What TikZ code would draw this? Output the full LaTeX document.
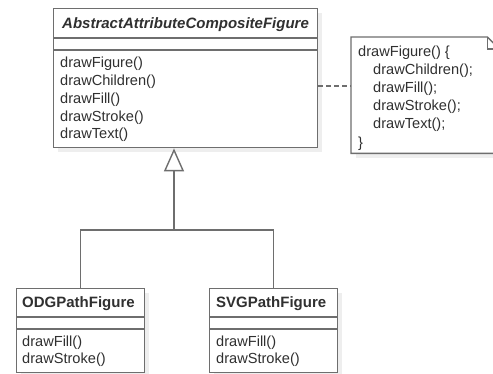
\documentclass[tikz,border=0pt]{standalone}
\usepackage{fontspec}
\setmainfont{Liberation Sans}
\usetikzlibrary{arrows.meta}
\definecolor{linec}{HTML}{6E6E6E}
\definecolor{txt}{HTML}{303030}
\definecolor{shad}{HTML}{EEEEEE}
\begin{document}
\begin{tikzpicture}[x=1pt,y=-1pt,
  box/.style={draw=linec, line width=1.4pt, fill=white, inner sep=0pt, anchor=north west},
  shadowbox/.style={fill=shad, draw=none},
  sepline/.style={draw=linec, line width=1.4pt},
  conn/.style={draw=linec, line width=1.4pt},
  dashconn/.style={draw=linec, line width=1.3pt, dash pattern=on 5pt off 3pt},
  lbl/.style={anchor=west, inner sep=0pt, text=txt, font=\fontsize{14.6}{17}\selectfont},
  ttl/.style={anchor=west, inner sep=0pt, text=txt, font=\fontsize{15}{17}\selectfont\bfseries}
]
\useasboundingbox (0,0) rectangle (493,374);
\clip (0,0) rectangle (493,374);
\fill[white] (0,0) rectangle (493,374);

% shadows
\fill[shadowbox] (58,13) rectangle (322,152);
\fill[shadowbox] (21,293) rectangle (149,377);
\fill[shadowbox] (214,293) rectangle (342,377);
\fill[shadowbox] (356,42) rectangle (505,158);

% main class
\node[box, minimum width=264pt, minimum height=139pt] (main) at (53,8) {};
\draw[sepline] ([yshift=-30pt]main.north west) -- ([yshift=-30pt]main.north east);
\draw[sepline] ([yshift=-42pt]main.north west) -- ([yshift=-42pt]main.north east);
\node[ttl, font=\fontsize{15}{17}\selectfont\bfseries\itshape] (mainT) at (62,25) {AbstractAttributeCompositeFigure};
\node[lbl] (m1) at (60,64) {drawFigure()};
\node[lbl] (m2) at (60,82) {drawChildren()};
\node[lbl] (m3) at (60,100) {drawFill()};
\node[lbl] (m4) at (60,117.5) {drawStroke()};
\node[lbl] (m5) at (60,135) {drawText()};

% ODG class
\node[box, minimum width=128pt, minimum height=84pt] (odg) at (16,288) {};
\draw[sepline] ([yshift=-29pt]odg.north west) -- ([yshift=-29pt]odg.north east);
\draw[sepline] ([yshift=-41pt]odg.north west) -- ([yshift=-41pt]odg.north east);
\node[ttl] (odgT) at (22,304) {ODGPathFigure};
\node[lbl] (o1) at (22,343) {drawFill()};
\node[lbl] (o2) at (22,360) {drawStroke()};

% SVG class
\node[box, minimum width=128pt, minimum height=84pt] (svg) at (209,288) {};
\draw[sepline] ([yshift=-29pt]svg.north west) -- ([yshift=-29pt]svg.north east);
\draw[sepline] ([yshift=-41pt]svg.north west) -- ([yshift=-41pt]svg.north east);
\node[ttl] (svgT) at (216,304) {SVGPathFigure};
\node[lbl] (s1) at (216,343) {drawFill()};
\node[lbl] (s2) at (216,360) {drawStroke()};

% note
\node[inner sep=0pt, anchor=north west, minimum width=148pt, minimum height=116pt] (note) at (351,37) {};
\draw[conn, fill=white] (note.north west) -- ([xshift=-12pt]note.north east) -- ([yshift=-12pt]note.north east) -- (note.south east) -- (note.south west) -- cycle;
\draw[conn] ([xshift=-12pt]note.north east) -- ([xshift=-12pt,yshift=-12pt]note.north east) -- ([yshift=-12pt]note.north east);
\node[lbl] (n1) at (358,53) {drawFigure() \{};
\node[lbl] (n2) at (373,71) {drawChildren();};
\node[lbl] (n3) at (373,89) {drawFill();};
\node[lbl] (n4) at (373,107) {drawStroke();};
\node[lbl] (n5) at (373,125) {drawText();};
\node[lbl] (n6) at (358,144) {\}};

% note link
\coordinate (nl) at ([yshift=-78pt]main.north east);
\draw[dashconn] (nl) -- (nl -| note.west);

% generalization
\coordinate (apex) at ([xshift=121pt]main.south west);
\coordinate (junc) at (apex |- 0,230);
\draw[conn] (odg.north) |- (junc) -| (svg.north);
\draw[conn, -{Triangle[open, length=23pt, width=20pt, fill=white]}] (junc) -- (apex);
\end{tikzpicture}
\end{document}
